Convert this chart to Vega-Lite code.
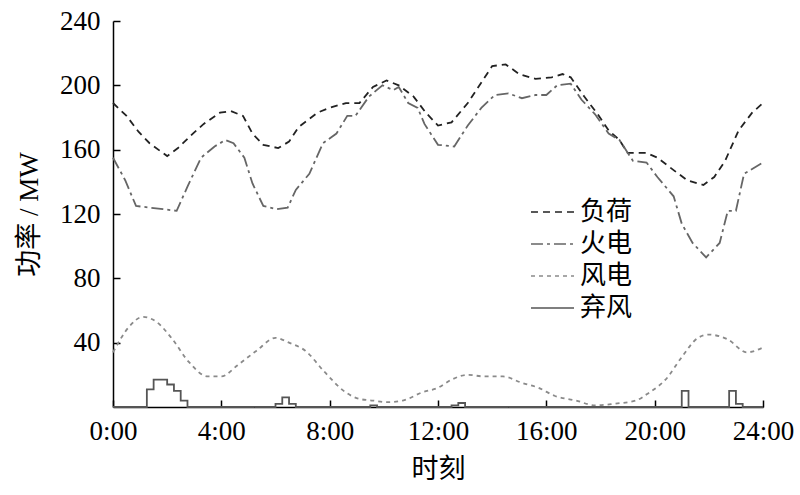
{
  "$schema": "https://vega.github.io/schema/vega-lite/v6.json",
  "width": 650,
  "height": 386,
  "autosize": {"type": "none"},
  "padding": {"left": 113, "top": 21, "right": 37, "bottom": 88},
  "background": "white",
  "config": {
    "view": {"stroke": null},
    "font": "Liberation Serif, Noto Sans CJK SC",
    "axis": {
      "labelFont": "Liberation Serif, Noto Sans CJK SC",
      "titleFont": "Liberation Serif, Noto Sans CJK SC",
      "labelFontSize": 27,
      "titleFontSize": 27,
      "titleFontWeight": "normal",
      "labelColor": "#000",
      "titleColor": "#000",
      "domainColor": "#000",
      "tickColor": "#000",
      "domainWidth": 1.5,
      "tickWidth": 1.5,
      "labelFlush": false,
      "grid": false
    },
    "legend": {
      "labelFont": "Liberation Serif, Noto Sans CJK SC",
      "labelFontSize": 26,
      "labelColor": "#000"
    }
  },
  "datasets": {
    "load": [
      {"t": 0, "v": 189}, {"t": 0.5, "v": 181}, {"t": 0.95, "v": 171}, {"t": 1.35, "v": 164},
      {"t": 2.0, "v": 156}, {"t": 2.4, "v": 161}, {"t": 2.95, "v": 170}, {"t": 3.35, "v": 176},
      {"t": 3.95, "v": 183}, {"t": 4.35, "v": 184}, {"t": 4.8, "v": 181}, {"t": 5.15, "v": 170},
      {"t": 5.55, "v": 163}, {"t": 6.1, "v": 161}, {"t": 6.5, "v": 165}, {"t": 6.85, "v": 174},
      {"t": 7.55, "v": 183}, {"t": 8.0, "v": 186}, {"t": 8.6, "v": 189}, {"t": 9.1, "v": 189},
      {"t": 9.6, "v": 199}, {"t": 10.1, "v": 203}, {"t": 10.55, "v": 200}, {"t": 11.1, "v": 193},
      {"t": 11.55, "v": 183}, {"t": 12.0, "v": 175}, {"t": 12.5, "v": 177}, {"t": 13.1, "v": 189},
      {"t": 14.0, "v": 212}, {"t": 14.5, "v": 213}, {"t": 15.0, "v": 207}, {"t": 15.6, "v": 204},
      {"t": 16.2, "v": 205}, {"t": 16.6, "v": 207}, {"t": 16.9, "v": 205}, {"t": 17.4, "v": 193},
      {"t": 17.9, "v": 182}, {"t": 18.3, "v": 172}, {"t": 18.7, "v": 166}, {"t": 19.0, "v": 158},
      {"t": 19.7, "v": 158}, {"t": 20.1, "v": 155}, {"t": 20.8, "v": 146}, {"t": 21.2, "v": 141},
      {"t": 21.8, "v": 138}, {"t": 22.2, "v": 143}, {"t": 22.6, "v": 153}, {"t": 23.1, "v": 172},
      {"t": 23.6, "v": 183}, {"t": 24, "v": 189}
    ],
    "thermal": [
      {"t": 0, "v": 155}, {"t": 0.45, "v": 141}, {"t": 0.85, "v": 125}, {"t": 1.35, "v": 124},
      {"t": 1.85, "v": 123}, {"t": 2.35, "v": 122}, {"t": 2.75, "v": 137}, {"t": 3.25, "v": 155},
      {"t": 3.75, "v": 162}, {"t": 4.15, "v": 166}, {"t": 4.45, "v": 164}, {"t": 4.85, "v": 155},
      {"t": 5.15, "v": 139}, {"t": 5.55, "v": 125}, {"t": 6.05, "v": 123}, {"t": 6.45, "v": 124},
      {"t": 6.75, "v": 135}, {"t": 7.25, "v": 145}, {"t": 7.75, "v": 164}, {"t": 8.25, "v": 170},
      {"t": 8.65, "v": 181}, {"t": 8.95, "v": 181}, {"t": 9.45, "v": 193}, {"t": 9.95, "v": 200},
      {"t": 10.35, "v": 197}, {"t": 10.55, "v": 199}, {"t": 10.9, "v": 189}, {"t": 11.25, "v": 186},
      {"t": 11.5, "v": 176}, {"t": 12.0, "v": 163}, {"t": 12.6, "v": 162}, {"t": 13.1, "v": 175},
      {"t": 13.6, "v": 186}, {"t": 14.1, "v": 194}, {"t": 14.6, "v": 195}, {"t": 15.1, "v": 192},
      {"t": 15.6, "v": 194}, {"t": 16.0, "v": 194}, {"t": 16.4, "v": 200}, {"t": 16.9, "v": 201},
      {"t": 17.3, "v": 191}, {"t": 17.8, "v": 182}, {"t": 18.3, "v": 170}, {"t": 18.7, "v": 166},
      {"t": 19.2, "v": 153}, {"t": 19.7, "v": 152}, {"t": 20.1, "v": 143}, {"t": 20.7, "v": 131},
      {"t": 21.0, "v": 114}, {"t": 21.4, "v": 102}, {"t": 21.9, "v": 93}, {"t": 22.4, "v": 102},
      {"t": 22.7, "v": 122}, {"t": 23.0, "v": 122}, {"t": 23.3, "v": 145}, {"t": 24, "v": 152}
    ],
    "wind": [
      {"t": 0, "v": 34}, {"t": 0.6, "v": 50}, {"t": 1.1, "v": 56}, {"t": 1.6, "v": 53},
      {"t": 2.2, "v": 42}, {"t": 2.8, "v": 28}, {"t": 3.5, "v": 19}, {"t": 4.0, "v": 19},
      {"t": 4.6, "v": 26}, {"t": 5.3, "v": 35}, {"t": 6.0, "v": 43}, {"t": 6.5, "v": 40},
      {"t": 7.1, "v": 35}, {"t": 7.8, "v": 22}, {"t": 8.6, "v": 9}, {"t": 9.1, "v": 5},
      {"t": 9.6, "v": 4}, {"t": 10.1, "v": 3}, {"t": 10.7, "v": 4}, {"t": 11.4, "v": 9},
      {"t": 12.0, "v": 12}, {"t": 12.5, "v": 17}, {"t": 13.1, "v": 20}, {"t": 13.7, "v": 19},
      {"t": 14.4, "v": 19}, {"t": 15.1, "v": 15}, {"t": 15.7, "v": 12}, {"t": 16.3, "v": 7},
      {"t": 17.1, "v": 4}, {"t": 17.8, "v": 1}, {"t": 18.5, "v": 2}, {"t": 19.3, "v": 4},
      {"t": 19.8, "v": 9}, {"t": 20.4, "v": 17}, {"t": 21.0, "v": 31}, {"t": 21.6, "v": 43},
      {"t": 22.0, "v": 45}, {"t": 22.7, "v": 42}, {"t": 23.4, "v": 34}, {"t": 24, "v": 37}
    ],
    "curtail": [
      {"t": 0, "v": 0}, {"t": 1.25, "v": 11}, {"t": 1.5, "v": 17}, {"t": 2.0, "v": 14},
      {"t": 2.25, "v": 10}, {"t": 2.5, "v": 4}, {"t": 2.75, "v": 0}, {"t": 6.0, "v": 2},
      {"t": 6.25, "v": 6}, {"t": 6.5, "v": 2}, {"t": 6.75, "v": 0}, {"t": 9.5, "v": 1},
      {"t": 9.75, "v": 0}, {"t": 12.5, "v": 1}, {"t": 12.75, "v": 2.5}, {"t": 13.0, "v": 0},
      {"t": 21.0, "v": 10}, {"t": 21.25, "v": 0}, {"t": 22.75, "v": 10}, {"t": 23.0, "v": 2},
      {"t": 23.25, "v": 0}, {"t": 24, "v": 0}
    ]
  },
  "encoding": {
    "x": {
      "field": "t", "type": "quantitative",
      "scale": {"domain": [0, 24], "nice": false, "zero": false},
      "axis": {
        "values": [0, 4, 8, 12, 16, 20, 24],
        "labelExpr": "datum.value + ':00'",
        "tickSize": -7,
        "labelPadding": 18,
        "title": "时刻",
        "titlePadding": 12
      }
    },
    "y": {
      "field": "v", "type": "quantitative",
      "scale": {"domain": [0, 240], "nice": false},
      "axis": {
        "values": [40, 80, 120, 160, 200, 240],
        "tickSize": -7,
        "labelPadding": 20,
        "title": "功率 / MW",
        "titlePadding": 16
      }
    },
    "color": {
      "field": "s", "type": "nominal",
      "scale": {"domain": ["负荷", "火电", "风电", "弃风"], "range": ["#222222", "#666666", "#8a8a8a", "#555555"]},
      "legend": {
        "title": null,
        "orient": "none",
        "legendX": 417,
        "legendY": 175,
        "symbolType": "stroke",
        "symbolSize": 1850,
        "symbolStrokeWidth": 1.5,
        "clipHeight": 32,
        "rowPadding": 0,
        "labelOffset": 5
      }
    },
    "strokeDash": {
      "field": "s", "type": "nominal",
      "scale": {"domain": ["负荷", "火电", "风电", "弃风"], "range": [[7, 5], [12, 4, 3, 4], [4, 4], [1, 0]]},
      "legend": {
        "title": null,
        "orient": "none",
        "legendX": 417,
        "legendY": 175,
        "symbolType": "stroke",
        "symbolSize": 1850,
        "symbolStrokeWidth": 1.5,
        "clipHeight": 32,
        "rowPadding": 0,
        "labelOffset": 5
      }
    }
  },
  "layer": [
    {
      "data": {"name": "load"},
      "transform": [{"calculate": "'负荷'", "as": "s"}],
      "mark": {"type": "line", "strokeWidth": 1.8}
    },
    {
      "data": {"name": "thermal"},
      "transform": [{"calculate": "'火电'", "as": "s"}],
      "mark": {"type": "line", "strokeWidth": 1.8}
    },
    {
      "data": {"name": "wind"},
      "transform": [{"calculate": "'风电'", "as": "s"}],
      "mark": {"type": "line", "strokeWidth": 1.8, "interpolate": "monotone"}
    },
    {
      "data": {"name": "curtail"},
      "transform": [{"calculate": "'弃风'", "as": "s"}],
      "mark": {"type": "line", "strokeWidth": 1.8, "interpolate": "step-after"}
    }
  ]
}
